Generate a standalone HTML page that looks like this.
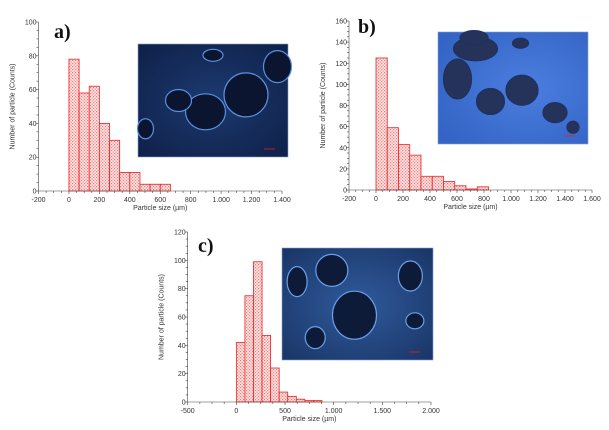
<!DOCTYPE html>
<html><head><meta charset="utf-8">
<style>
html,body{margin:0;padding:0;background:#fff;width:609px;height:430px;overflow:hidden}
svg text{font-family:"Liberation Sans",sans-serif;fill:#333}
</style></head>
<body>
<svg id="fig" width="609" height="430" xmlns="http://www.w3.org/2000/svg">
<defs>
<pattern id="hatch" width="3" height="3" patternUnits="userSpaceOnUse">
<rect width="3" height="3" fill="#fde8e8"/>
<rect x="0" y="0" width="1.2" height="1.2" fill="#f07a7a"/>
<rect x="1.5" y="1.5" width="1.2" height="1.2" fill="#f07a7a"/>
</pattern>
<radialGradient id="imgA" cx="50%" cy="50%" r="70%"><stop offset="0" stop-color="#1c3a70"/><stop offset="1" stop-color="#0f2048"/></radialGradient>
<radialGradient id="imgB" cx="60%" cy="50%" r="70%"><stop offset="0" stop-color="#4a7ee0"/><stop offset="1" stop-color="#3464c4"/></radialGradient>
<radialGradient id="imgC" cx="50%" cy="50%" r="70%"><stop offset="0" stop-color="#2f5a9c"/><stop offset="1" stop-color="#1a3566"/></radialGradient>
</defs>
<g id="panels"></g>
</svg>
<script>
// Panel a data
const catsA = [0,66.7,133.3,200,266.7,333.3,400,466.7,533.3,600];
const valsA = [78,58,62,40,30,11,11,4,4,4];
const xTicksA = ["-200","0","200","400","600","800","1.000","1.200","1.400"];
const yTicksA = ["0","20","40","60","80","100"];
// Panel b data
const catsB = [0,83.3,166.7,250,333.3,416.7,500,583.3,666.7,750];
const valsB = [125,59,43,33,13,13,8,4,1,3];
const xTicksB = ["-200","0","200","400","600","800","1.000","1.200","1.400","1.600"];
const yTicksB = ["0","20","40","60","80","100","120","140","160"];
// Panel c data
const catsC = [0,88,176,264,352,440,528,616,704,792];
const valsC = [42,75,99,47,24,7,4,2,1,1];
const xTicksC = ["-500","0","500","1.000","1.500","2.000"];
const yTicksC = ["0","20","40","60","80","100","120"];

const NS="http://www.w3.org/2000/svg";
const root=document.getElementById('panels');
function mk(tag,attrs,parent){const e=document.createElementNS(NS,tag);for(const k in attrs)e.setAttribute(k,attrs[k]);(parent||root).appendChild(e);return e;}
function num(s){return parseFloat(s.replace('.',''));}

function panel(cfg){
  const g=mk('g',{});
  
  
  const xmin=num(cfg.xt[0]),xmax=num(cfg.xt[cfg.xt.length-1]);
  const ymax=num(cfg.yt[cfg.yt.length-1]);
  const X=v=>cfg.x0+(v-xmin)/(xmax-xmin)*(cfg.x1-cfg.x0);
  const Y=v=>cfg.y0-v/ymax*(cfg.y0-cfg.y1);
  // inset image
  const im=mk('g',{},g);
  
  
  mk('rect',{x:cfg.img[0],y:cfg.img[1],width:cfg.img[2]-cfg.img[0],height:cfg.img[3]-cfg.img[1],fill:cfg.imgFill,stroke:'#7fa0d8','stroke-width':0.6},im);
  cfg.blobs.forEach(b=>mk('ellipse',{cx:cfg.img[0]+b[0]*(cfg.img[2]-cfg.img[0]),cy:cfg.img[1]+b[1]*(cfg.img[3]-cfg.img[1]),rx:b[2],ry:b[3],fill:cfg.blobFill,stroke:cfg.blobStroke,'stroke-width':1.2},im));
  mk('line',{x1:cfg.img[2]-24,x2:cfg.img[2]-13,y1:cfg.img[3]-8,y2:cfg.img[3]-8,stroke:'#e02020','stroke-width':0.8},im);
  // bars
  const w=cfg.cats[1]-cfg.cats[0];
  cfg.cats.forEach((c,i)=>{
    const r=mk('rect',{x:X(c),y:Y(cfg.vals[i]),width:X(c+w)-X(c),height:Y(0)-Y(cfg.vals[i]),fill:'url(#hatch)',stroke:'#ee2222','stroke-width':0.8},g);
    
    
  });
  // axes
  const ax=mk('g',{stroke:'#444','stroke-width':0.6},g);
  
  
  mk('line',{x1:cfg.x0,x2:cfg.x0,y1:cfg.y1,y2:cfg.y0},ax);
  mk('line',{x1:cfg.x0,x2:cfg.x1,y1:cfg.y0,y2:cfg.y0},ax);
  const nx=cfg.xt.length-1;
  for(let i=0;i<=nx*4;i++){const xx=cfg.x0+i*(cfg.x1-cfg.x0)/(nx*4);mk('line',{x1:xx,x2:xx,y1:cfg.y0,y2:cfg.y0+(i%4==0?3:2)},ax);}
  const ny=cfg.yt.length-1;
  for(let i=0;i<=ny*4;i++){const yy=cfg.y0-i*(cfg.y0-cfg.y1)/(ny*4);mk('line',{x1:cfg.x0-(i%4==0?3:2),x2:cfg.x0,y1:yy,y2:yy},ax);}
  cfg.xt.forEach((t,i)=>{const e=mk('text',{x:cfg.x0+i*(cfg.x1-cfg.x0)/nx,y:cfg.y0+11,'font-size':7,'text-anchor':'middle'},g);e.textContent=t;
    });
  cfg.yt.forEach((t,i)=>{const e=mk('text',{x:cfg.x0-2,y:cfg.y0-i*(cfg.y0-cfg.y1)/ny+2.5,'font-size':7,'text-anchor':'end'},g);e.textContent=t;
    });
  const xt=mk('text',{x:(cfg.x0+cfg.x1)/2,y:cfg.y0+19,'font-size':7,'text-anchor':'middle'},g);xt.textContent='Particle size (µm)';
  
  const yy=(cfg.y0+cfg.y1)/2, yx=cfg.x0-24;
  const yt=mk('text',{x:yx,y:yy,'font-size':7,'text-anchor':'middle',transform:`rotate(-90 ${yx} ${yy})`},g);yt.textContent='Number of particle (Counts)';
  
  const lb=mk('text',{x:cfg.lab[0],y:cfg.lab[1],'font-size':20,'font-weight':'bold','font-family':'Liberation Serif, serif'},g);
  lb.style.fontFamily='"Liberation Serif",serif';lb.style.fill='#111';lb.textContent=cfg.id+')';
  
}
panel({id:'a',cats:catsA,vals:valsA,xt:xTicksA,yt:yTicksA,x0:38.5,x1:282,y0:191,y1:22,img:[138,44,288,157],lab:[54,38],
  imgFill:'url(#imgA)',blobFill:'#0b1530',blobStroke:'#5a90e0',
  blobs:[[0.45,0.6,20,18],[0.27,0.5,13,11],[0.72,0.45,22,22],[0.93,0.2,14,16],[0.5,0.1,10,6],[0.05,0.75,8,10]]});
panel({id:'b',cats:catsB,vals:valsB,xt:xTicksB,yt:yTicksB,x0:349,x1:592,y0:190,y1:21,img:[438,32,588,144],lab:[358,33],
  imgFill:'url(#imgB)',blobFill:'#25335a',blobStroke:'#203060',
  blobs:[[0.25,0.15,22,12],[0.13,0.42,14,20],[0.35,0.62,14,13],[0.56,0.52,16,15],[0.24,0.05,14,7],[0.78,0.72,12,10],[0.9,0.85,6,6],[0.55,0.1,8,5]]});
panel({id:'c',cats:catsC,vals:valsC,xt:xTicksC,yt:yTicksC,x0:187.7,x1:431,y0:402,y1:232,img:[282,248,433,360],lab:[198,252],
  imgFill:'url(#imgC)',blobFill:'#0d1a38',blobStroke:'#6aa0e8',
  blobs:[[0.48,0.6,22,24],[0.33,0.2,16,16],[0.85,0.25,12,15],[0.1,0.3,10,15],[0.22,0.8,10,11],[0.88,0.65,9,8]]});
</script>
</body></html>
